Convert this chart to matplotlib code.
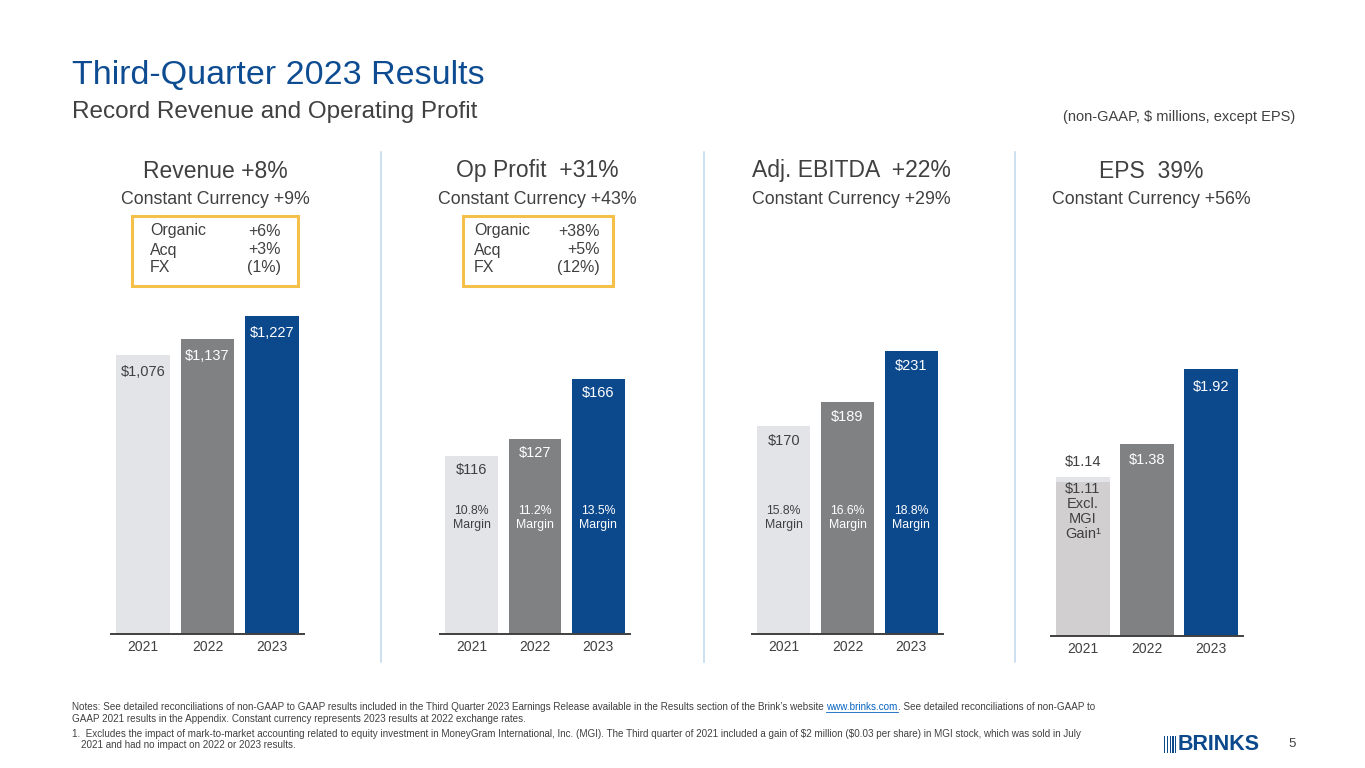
import matplotlib
matplotlib.use("Agg")
import matplotlib.pyplot as plt
import matplotlib.patches as mpatches
from matplotlib import font_manager as fm
from matplotlib.transforms import blended_transform_factory

plt.rcParams["font.family"] = ["Liberation Sans", "DejaVu Sans"]

# ── data ──────────────────────────────────────────────────────────────────────
years = ["2021", "2022", "2023"]
revenue = [1076, 1137, 1227]
op_profit = [116, 127, 166]
op_margin = ["10.8%", "11.2%", "13.5%"]
ebitda = [170, 189, 231]
ebitda_margin = ["15.8%", "16.6%", "18.8%"]
eps = [1.14, 1.38, 1.92]
eps_excl_mgi = 1.11

headers = ["Revenue +8%", "Op Profit  +31%", "Adj. EBITDA  +22%", "EPS  39%"]
cc_lines = ["Constant Currency +9%", "Constant Currency +43%",
            "Constant Currency +29%", "Constant Currency +56%"]
rev_bridge_lbl = ["Organic", "Acq", "FX"]
rev_bridge_val = ["+6%", "+3%", "(1%)"]
op_bridge_lbl = ["Organic", "Acq", "FX"]
op_bridge_val = ["+38%", "+5%", "(12%)"]

# ── style ─────────────────────────────────────────────────────────────────────
W, H = 1365, 768
C_2021 = "#E2E4E8"
C_2022 = "#7F8183"
C_2023 = "#0B488C"
C_EXCL = "#D1CFD0"
DARK = "#404040"
BLUE = "#0E4C92"
GOLD = "#F4C04A"
SEP = "#BDD7EE"
bar_colors = [C_2021, C_2022, C_2023]
lbl_colors = [DARK, "white", "white"]

fig = plt.figure(figsize=(W / 100, H / 100), dpi=100)


def fx(x):
    return x / W


def fy(y):
    return 1 - y / H


def px_axes(x0, x1, ytop, ybot):
    return fig.add_axes([fx(x0), fy(ybot), (x1 - x0) / W, (ybot - ytop) / H])


def setup(ax, ymax):
    ax.set_xlim(-0.5, 2.5)
    ax.set_ylim(0, ymax)
    for s in ("top", "left", "right"):
        ax.spines[s].set_visible(False)
    ax.spines["bottom"].set_color(DARK)
    ax.spines["bottom"].set_linewidth(1.4)
    ax.set_yticks([])
    ax.set_xticks(range(3))
    ax.set_xticklabels(years, fontsize=10, color=DARK)
    ax.tick_params(axis="x", length=0, pad=4)
    ax.patch.set_alpha(0)


def value_labels(ax, vals, fmt, offset=-16):
    for i, v in enumerate(vals):
        ax.annotate(fmt.format(v), (i, v), xytext=(0, offset), textcoords="offset pixels",
                    ha="center", va="center", fontsize=10.5, color=lbl_colors[i])


def margin_labels(ax, margins):
    tr = blended_transform_factory(ax.transData, ax.transAxes)
    for i, m in enumerate(margins):
        ax.text(i, 0.347, f"{m}\nMargin", transform=tr, ha="center", va="center",
                fontsize=8.8, color=lbl_colors[i], linespacing=1.15)


BW = 0.83

# Revenue
ax1 = px_axes(111, 304, 300, 634)
setup(ax1, 1288.7)
ax1.bar(range(3), revenue, width=BW, color=bar_colors)
value_labels(ax1, revenue, "${:,.0f}", -17)

# Op profit
ax2 = px_axes(440, 630, 300, 634)
setup(ax2, 217.4)
ax2.bar(range(3), op_profit, width=BW, color=bar_colors)
value_labels(ax2, op_profit, "${:.0f}", -14)
margin_labels(ax2, op_margin)

# Adj. EBITDA
ax3 = px_axes(752, 943, 300, 634)
setup(ax3, 272.6)
ax3.bar(range(3), ebitda, width=BW, color=bar_colors)
value_labels(ax3, ebitda, "${:.0f}", -15)
margin_labels(ax3, ebitda_margin)

# EPS
ax4 = px_axes(1051, 1243, 300, 636)
setup(ax4, 2.416)
ax4.bar(range(3), eps, width=BW, color=bar_colors)
ax4.bar([0], [eps_excl_mgi], width=BW, color=C_EXCL)
ax4.annotate(f"${eps[0]:.2f}", (0, eps[0]), xytext=(0, 15), textcoords="offset pixels",
             ha="center", va="center", fontsize=10.5, color=DARK)
ax4.annotate(f"${eps_excl_mgi:.2f}\nExcl.\nMGI\nGain\u00b9", (0, eps_excl_mgi),
             xytext=(0, -30), textcoords="offset pixels", ha="center", va="center",
             fontsize=10.5, color=DARK, linespacing=1.1)
for i in (1, 2):
    ax4.annotate(f"${eps[i]:.2f}", (i, eps[i]), xytext=(0, -16 if i == 1 else -18),
                 textcoords="offset pixels", ha="center", va="center",
                 fontsize=10.5, color="white")

# ── headers ───────────────────────────────────────────────────────────────────
head_x = [215, 537, 851, 1151]
for x, t, c in zip(head_x, headers, cc_lines):
    fig.text(fx(x), fy(171), t, ha="center", va="center", fontsize=16.5, color=DARK)
    fig.text(fx(x), fy(200), c, ha="center", va="center", fontsize=12.8, color=DARK)

# bridge boxes
for (bx0, bx1, lx, vx, lbls, vals) in [(132, 298, 150, 281, rev_bridge_lbl, rev_bridge_val),
                                        (463, 613, 474, 600, op_bridge_lbl, op_bridge_val)]:
    fig.patches.append(mpatches.Rectangle((fx(bx0), fy(286)), (bx1 - bx0) / W, 70 / H,
                                          transform=fig.transFigure, fill=False,
                                          edgecolor=GOLD, linewidth=2.2))
    for yy, l, v in zip([231, 250, 268], lbls, vals):
        fig.text(fx(lx), fy(yy), l, ha="left", va="center", fontsize=11.5, color=DARK)
        fig.text(fx(vx), fy(yy), v, ha="right", va="center", fontsize=11.5, color=DARK)

# separators
for sx in (381, 704, 1015):
    fig.add_artist(plt.Line2D([fx(sx), fx(sx)], [fy(152), fy(662)], color=SEP, lw=1.1,
                              transform=fig.transFigure))

# titles
fig.text(fx(72), fy(75), "Third-Quarter 2023 Results", ha="left", va="center",
         fontsize=24.5, color=BLUE)
fig.text(fx(72), fy(112), "Record Revenue and Operating Profit", ha="left", va="center",
         fontsize=17.5, color=DARK)
fig.text(fx(1295), fy(117), "(non-GAAP, \\$ millions, except EPS)", ha="right",
         va="center", fontsize=10.5, color=DARK)

# ── notes ─────────────────────────────────────────────────────────────────────
names = {f.name for f in fm.fontManager.ttflist}
note_font = "Liberation Sans Narrow" if "Liberation Sans Narrow" in names else "Liberation Sans"
NFS = 8.0 if note_font == "Liberation Sans Narrow" else 7.1
renderer = fig.canvas.get_renderer()

part_a = ("Notes: See detailed reconciliations of non-GAAP to GAAP results included in the Third "
          "Quarter 2023 Earnings Release available in the Results section of the Brink\u2019s website ")
part_link = "www.brinks.com"
part_b = ". See detailed reconciliations of non-GAAP to"
t_a = fig.text(fx(72), fy(707), part_a, ha="left", va="center", fontsize=NFS,
               color=DARK, family=note_font)
bb = t_a.get_window_extent(renderer)
t_l = fig.text(bb.x1 / W, fy(707), part_link, ha="left", va="center", fontsize=NFS,
               color="#0563C1", family=note_font)
bl = t_l.get_window_extent(renderer)
fig.add_artist(plt.Line2D([bl.x0 / W, bl.x1 / W], [(bl.y0 + 0.5) / H] * 2, color="#0563C1",
                          lw=0.6, transform=fig.transFigure))
fig.text(bl.x1 / W, fy(707), part_b, ha="left", va="center", fontsize=NFS, color=DARK,
         family=note_font)
fig.text(fx(72), fy(719), "GAAP 2021 results in the Appendix. Constant currency represents "
         "2023 results at 2022 exchange rates.", ha="left", va="center", fontsize=NFS,
         color=DARK, family=note_font)
fig.text(fx(72), fy(734), "1.  Excludes the impact of mark-to-market accounting related to equity "
         "investment in MoneyGram International, Inc. (MGI). The Third quarter of 2021 included a "
         "gain of \\$2 million (\\$0.03 per share) in MGI stock, which was sold in July",
         ha="left", va="center", fontsize=NFS, color=DARK, family=note_font)
fig.text(fx(81), fy(745), "2021 and had no impact on 2022 or 2023 results.", ha="left",
         va="center", fontsize=NFS, color=DARK, family=note_font)

# ── logo and page number ──────────────────────────────────────────────────────
for k in range(5):
    fig.patches.append(mpatches.Rectangle((fx(1164 + k * 2.8), fy(753)), 1.2 / W, 17 / H,
                                          transform=fig.transFigure, color=C_2023, lw=0))
fig.text(fx(1178), fy(744), "BRINKS", ha="left", va="center", fontsize=15.5,
         fontweight="bold", color=C_2023)
fig.text(fx(1292), fy(744), "5", ha="center", va="center", fontsize=9.5, color=DARK)

fig.savefig("out.png", dpi=100)
